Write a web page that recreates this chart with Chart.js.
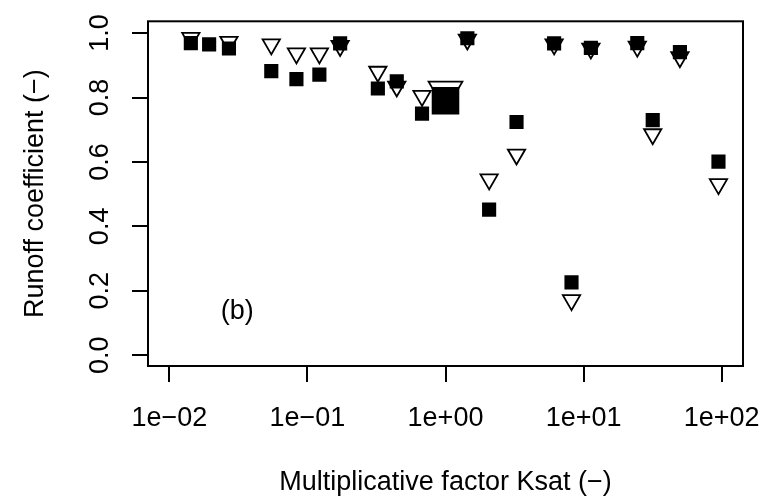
<!DOCTYPE html>
<html>
<head>
<meta charset="utf-8">
<script src="https://cdn.jsdelivr.net/npm/chart.js@4.4.1/dist/chart.umd.min.js"></script>
<style>
  html, body { margin: 0; padding: 0; background: #fff; overflow: hidden; }
  #wrap { width: 767px; height: 496px; }
  canvas { display: block; }
</style>
</head>
<body>
<div id="wrap"><canvas id="c" width="767" height="496"></canvas></div>
<script>
// ---- data ----
const ksat = [0.0143, 0.0194, 0.0270, 0.0547, 0.0832, 0.122, 0.1725, 0.3236, 0.4436, 0.676, 1, 1.44, 2.07, 3.27, 6.12, 8.18, 11.3, 24.5, 31.7, 49.9, 94.9];
const runoffFilled = [0.969, 0.965, 0.952, 0.882, 0.857, 0.871, 0.968, 0.828, 0.850, 0.750, 0.790, 0.984, 0.452, 0.724, 0.968, 0.226, 0.954, 0.969, 0.730, 0.941, 0.601];
const runoffOpen = [0.985, null, 0.973, 0.965, 0.937, 0.937, 0.960, 0.880, 0.834, 0.805, 0.819, 0.980, 0.546, 0.623, 0.965, 0.171, 0.952, 0.958, 0.686, 0.925, 0.531];
const referenceFactor = 1;
const xTickValues = [0.01, 0.1, 1, 10, 100];
const xTickLabels = ['1e\u221202', '1e\u221201', '1e+00', '1e+01', '1e+02'];
const yTickValues = [0, 0.2, 0.4, 0.6, 0.8, 1.0];
const yTickLabels = ['0.0', '0.2', '0.4', '0.6', '0.8', '1.0'];
const xTitle = 'Multiplicative factor Ksat (\u2212)';
const yTitle = 'Runoff coefficient (\u2212)';
const panelLabel = '(b)';
const panelLabelAt = [0.031, 0.137];

// ---- build ----
const FONT = "'Liberation Sans', Arial, Helvetica, sans-serif";
const toPoints = (ys) => ksat.map((x, i) => ({ x: x, y: ys[i] }));
const markerRadius = (ctx) => (ksat[ctx.dataIndex] === referenceFactor ? 19.5 : 10);

const framePlugin = {
  id: 'frame',
  afterDatasetsDraw(chart) {
    const { ctx, chartArea: a, scales } = chart;
    ctx.save();
    ctx.strokeStyle = '#000';
    ctx.lineWidth = 2;
    ctx.strokeRect(a.left, a.top, a.right - a.left, a.bottom - a.top);
    ctx.fillStyle = '#000';
    ctx.font = '27px ' + FONT;
    ctx.textAlign = 'center';
    ctx.textBaseline = 'middle';
    ctx.fillText(panelLabel, scales.x.getPixelForValue(panelLabelAt[0]), scales.y.getPixelForValue(panelLabelAt[1]));
    ctx.restore();
  }
};

new Chart(document.getElementById('c'), {
  type: 'scatter',
  data: {
    datasets: [
      {
        label: 'filled',
        data: toPoints(runoffFilled),
        pointStyle: 'rect',
        pointRadius: markerRadius,
        pointHoverRadius: markerRadius,
        backgroundColor: '#000',
        borderColor: '#000',
        borderWidth: 0,
        showLine: false
      },
      {
        label: 'open',
        data: toPoints(runoffOpen),
        pointStyle: 'triangle',
        rotation: 180,
        pointRadius: markerRadius,
        pointHoverRadius: markerRadius,
        backgroundColor: 'rgba(255,255,255,0)',
        borderColor: '#000',
        borderWidth: 1.8,
        showLine: false
      }
    ]
  },
  options: {
    responsive: false,
    animation: false,
    devicePixelRatio: 1,
    layout: { padding: { left: 0, top: 15, right: 24, bottom: 0 } },
    plugins: { legend: { display: false }, tooltip: { enabled: false } },
    events: [],
    scales: {
      x: {
        type: 'logarithmic',
        position: 'bottom',
        min: Math.pow(10, -2.155),
        max: Math.pow(10, 2.155),
        afterBuildTicks: (s) => { s.ticks = xTickValues.map(v => ({ value: v })); },
        afterFit: (s) => { s.height = 130; s.paddingLeft = 0; s.paddingRight = 0; },
        border: { display: false },
        grid: { display: true, drawOnChartArea: false, drawTicks: true, tickLength: 16, color: '#000', tickColor: '#000', lineWidth: 2, tickWidth: 2 },
        ticks: {
          autoSkip: false, maxRotation: 0, minRotation: 0,
          padding: 23,
          color: '#000',
          font: { family: FONT, size: 27, lineHeight: 1 },
          callback: (v, i) => xTickLabels[i]
        },
        title: {
          display: true, text: xTitle, color: '#000',
          font: { family: FONT, size: 27, lineHeight: 1 },
          padding: { top: 0, bottom: 0 }
        }
      },
      y: {
        type: 'linear',
        position: 'left',
        min: -0.0335,
        max: 1.0366,
        afterBuildTicks: (s) => { s.ticks = yTickValues.map(v => ({ value: v })); },
        afterFit: (s) => { s.width = 148; s.paddingTop = 0; s.paddingBottom = 0; },
        border: { display: false },
        grid: { display: true, drawOnChartArea: false, drawTicks: true, tickLength: 16, color: '#000', tickColor: '#000', lineWidth: 2, tickWidth: 2 },
        ticks: {
          minRotation: 90, maxRotation: 90,
          crossAlign: 'center',
          padding: 13,
          color: '#000',
          font: { family: FONT, size: 27, lineHeight: 1 },
          callback: (v, i) => yTickLabels[i]
        },
        title: {
          display: true, text: yTitle, color: '#000',
          font: { family: FONT, size: 27, lineHeight: 1 },
          padding: { top: 22, bottom: 0 }
        }
      }
    }
  },
  plugins: [framePlugin]
});
</script>
</body>
</html>
